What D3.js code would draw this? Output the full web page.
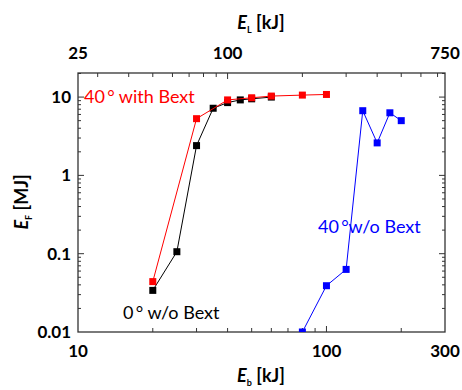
<!DOCTYPE html>
<html>
<head>
<meta charset="utf-8">
<script src="https://cdn.jsdelivr.net/npm/d3@7"></script>
<style>
  body { margin: 0; background: #fff; }
  text { font-family: Lato, "Open Sans", sans-serif; }
</style>
</head>
<body>
<svg id="sketch"></svg>
<script>
// data (E_b in kJ, E_F in MJ)
var redEb = [20, 30, 40, 50, 60, 80, 100];
var redEf = [0.044, 5.3, 9.2, 9.8, 10.3, 10.6, 10.8];

var blackEb = [20, 25, 30, 35, 40, 45, 50, 60];
var blackEf = [0.034, 0.106, 2.4, 7.2, 8.5, 9.2, 9.5, 10.0];

var blueEb = [80, 100, 120, 140, 160, 180, 200];
var blueEf = [0.01, 0.039, 0.063, 6.7, 2.6, 6.3, 5.0];

var bottomTicks = [10, 100, 300];
var topTicks = [25, 100, 750];
var leftTicks = [0.01, 0.1, 1, 10];
var leftLabels = ['0.01', '0.1', '1', '10'];

var W = 462, H = 390;
var L = 78, R = 445, T = 73, B = 332;

var svg = d3.select('#sketch').attr('width', W).attr('height', H);

var x = d3.scaleLog().domain([10, 300]).range([L, R]);
var xTop = d3.scaleLog().domain([25, 750]).range([L, R]);
var y = d3.scaleLog().domain([0.01, 20.3]).range([B, T]);

function minors(lo, hi) {
    var out = [];
    for (var d = 0.001; d < 10000; d *= 10) {
	for (var k = 2; k < 10; k++) {
	    var v = +(k * d).toPrecision(3);
	    if (v > lo && v < hi) out.push(v);
	}
    }
    return out;
}

var axes = svg.append('g');

// ticks, all pointing inward
function hTicks(scale, vals, yy, dir, len) {
    vals.forEach(function(v) {
	axes.append('line')
	    .attr('x1', scale(v)).attr('x2', scale(v))
	    .attr('y1', yy).attr('y2', yy + dir * len)
	    .attr('stroke', '#333').attr('stroke-width', 1);
    });
}
function vTicks(vals, xx, dir, len) {
    vals.forEach(function(v) {
	axes.append('line')
	    .attr('x1', xx).attr('x2', xx + dir * len)
	    .attr('y1', y(v)).attr('y2', y(v))
	    .attr('stroke', '#333').attr('stroke-width', 1);
    });
}

hTicks(x, [100], B, -1, 6);
hTicks(x, minors(10, 300), B, -1, 4);
hTicks(xTop, [100], T, 1, 6);
hTicks(xTop, minors(25, 750), T, 1, 4);
vTicks([0.1, 1, 10], L, 1, 6);
vTicks(minors(0.01, 20.3), L, 1, 3);
vTicks([0.1, 1, 10], R, -1, 6);
vTicks(minors(0.01, 20.3), R, -1, 3);

axes.append('rect')
    .attr('x', L).attr('y', T)
    .attr('width', R - L).attr('height', B - T)
    .attr('fill', 'none').attr('stroke', '#333').attr('stroke-width', 1.3);

// tick labels
bottomTicks.forEach(function(v) {
    svg.append('text').attr('x', x(v)).attr('y', 357)
	.attr('text-anchor', 'middle')
	.style('font-size', '17px').style('font-weight', 'bold')
	.text(v);
});
topTicks.forEach(function(v) {
    svg.append('text').attr('x', xTop(v)).attr('y', 59)
	.attr('text-anchor', 'middle')
	.style('font-size', '17px').style('font-weight', 'bold')
	.text(v);
});
leftTicks.forEach(function(v, i) {
    svg.append('text').attr('x', 71).attr('y', y(v) + 6)
	.attr('text-anchor', 'end')
	.style('font-size', '17px').style('font-weight', 'bold')
	.text(leftLabels[i]);
});

// axis titles
function title(g, sub) {
    g.style('font-size', '18px').style('font-weight', 'bold');
    g.append('tspan').style('font-style', 'italic').text('E');
    g.append('tspan').attr('dy', 4).style('font-size', '9px').text(sub);
    g.append('tspan').attr('dy', -4).text(' [kJ]');
}
title(svg.append('text').attr('x', 261).attr('y', 29).attr('text-anchor', 'middle'), 'L');
title(svg.append('text').attr('x', 261).attr('y', 382).attr('text-anchor', 'middle'), 'b');

var yt = svg.append('text')
    .attr('transform', 'translate(28,202) rotate(-90)')
    .attr('text-anchor', 'middle')
    .style('font-size', '18px').style('font-weight', 'bold');
yt.append('tspan').style('font-style', 'italic').text('E');
yt.append('tspan').attr('dy', 4).style('font-size', '9px').text('F');
yt.append('tspan').attr('dy', -4).text(' [MJ]');

// data
svg.append('clipPath').attr('id', 'clip')
    .append('rect').attr('x', L).attr('y', T).attr('width', R - L).attr('height', B - T);
var plot = svg.append('g').attr('clip-path', 'url(#clip)');

var line = d3.line().x(function(d) { return x(d[0]); }).y(function(d) { return y(d[1]); });

function series(xs, ys, color) {
    var pts = d3.zip(xs, ys);
    plot.append('path').datum(pts)
	.attr('d', line).attr('fill', 'none')
	.attr('stroke', color).attr('stroke-width', 1);
    plot.selectAll(null).data(pts).enter().append('rect')
	.attr('x', function(d) { return x(d[0]) - 3.5; })
	.attr('y', function(d) { return y(d[1]) - 3.5; })
	.attr('width', 7).attr('height', 7)
	.attr('fill', color);
}

series(blackEb, blackEf, '#000000');
series(redEb, redEf, '#ff0000');
series(blueEb, blueEf, '#0000ff');

// series labels
svg.append('text').attr('x', 84).attr('y', 103)
    .style('font-size', '18px').attr('fill', '#ff0000')
    .text('40\u2009\u00b0 with Bext');
svg.append('text').attr('x', 123).attr('y', 319)
    .style('font-size', '18px').attr('fill', '#000')
    .text('0\u2009\u00b0  w/o Bext');
svg.append('text').attr('x', 318).attr('y', 233)
    .style('font-size', '18px').attr('fill', '#0000ff')
    .text('40\u2009\u00b0w/o Bext');
</script>
</body>
</html>
